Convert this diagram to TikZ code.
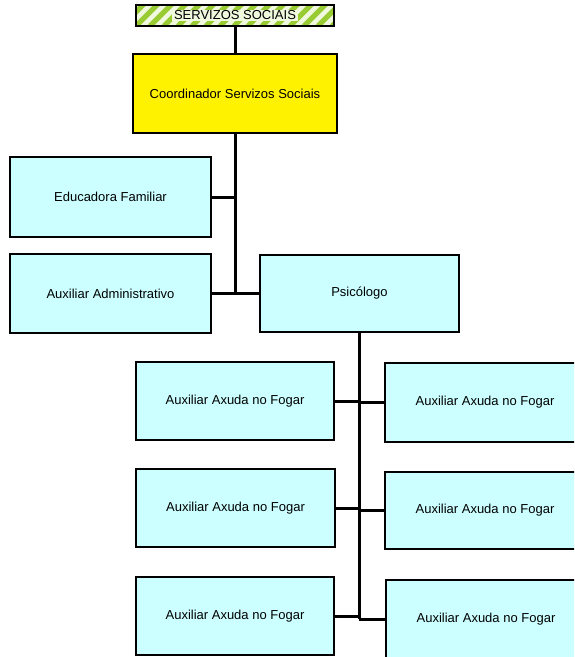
\documentclass[tikz,border=0pt]{standalone}
\usepackage{fontspec}
\setmainfont{Liberation Sans}
\begin{document}
\begin{tikzpicture}[x=1pt,y=-1pt,
  font=\fontsize{13pt}{15pt}\selectfont,
  box/.style={draw=black, line width=2.6pt, rectangle, inner sep=0pt, align=center},
  staff/.style={box, fill=cyanpale, minimum width=200pt, minimum height=78pt},
  head/.style={box, fill=yellow, minimum width=204pt, minimum height=79pt},
  banner/.style={box, fill=stripelight, minimum width=198pt, minimum height=21pt,
    path picture={
      \foreach \k in {-3,...,16}
        \draw[stripegreen, line width=5pt]
          ([xshift=\k*14pt]path picture bounding box.south west) -- ++(26pt,26pt);
    }},
  link/.style={draw=black, line width=3pt}
]
\definecolor{cyanpale}{RGB}{204,255,255}
\definecolor{stripegreen}{RGB}{153,204,51}
\definecolor{stripelight}{RGB}{240,248,222}

\useasboundingbox (0,0) rectangle (574,657);
\clip (0,0) rectangle (574,657);

% top of the chart
\node[banner] (top) at (235,15.5) {};
\node[fill=stripelight, inner xsep=2pt, inner ysep=1pt] (toptext) at (top.center) {SERVIZOS SOCIAIS};
\node[head] (coord) at (235,93.5) {Coordinador Servizos Sociais};

% second level
\node[staff, minimum width=201pt, minimum height=80pt] (edu) at (110.5,197) {Educadora Familiar};
\node[staff, minimum width=201pt, minimum height=79pt] (adm) at (110.5,293.5) {Auxiliar Administrativo};
\node[staff, minimum width=199pt, minimum height=77pt] (psi) at (359.5,293.5) {Psicólogo};

% home-help staff
\node[staff, minimum width=198pt] (l1) at (235,401) {Auxiliar Axuda no Fogar};
\node[staff, minimum height=79pt] (r1) at (485,402.5) {Auxiliar Axuda no Fogar};
\node[staff, minimum width=199pt] (l2) at (235.5,508) {Auxiliar Axuda no Fogar};
\node[staff, minimum height=77pt] (r2) at (485,510.5) {Auxiliar Axuda no Fogar};
\node[staff, minimum width=198pt] (l3) at (235,616) {Auxiliar Axuda no Fogar};
\node[staff] (r3) at (486,619) {Auxiliar Axuda no Fogar};

% junction points of the two trunks
\coordinate (trunkA) at (coord.south |- adm.east);
\coordinate (trunkB) at (359,0);

% upper levels
\path[link] (top.south) -- (coord.north);
\path[link] (coord.south) -- (trunkA);
\path[link] (edu.east) -- (edu.east -| trunkA);
\path[link] (adm.east) -- (psi.west);

% links below the psychologist
\path[link] (psi.south -| trunkB) -- (trunkB |- r3.west);
\path[link] (l1.east) -- (l1.east -| trunkB);
\path[link] (trunkB |- r1.west) -- (r1.west);
\path[link] (l2.east) -- (l2.east -| trunkB);
\path[link] (trunkB |- r2.west) -- (r2.west);
\path[link] (l3.east) -- (l3.east -| trunkB);
\path[link] (trunkB |- r3.west) -- (r3.west);
\end{tikzpicture}
\end{document}
